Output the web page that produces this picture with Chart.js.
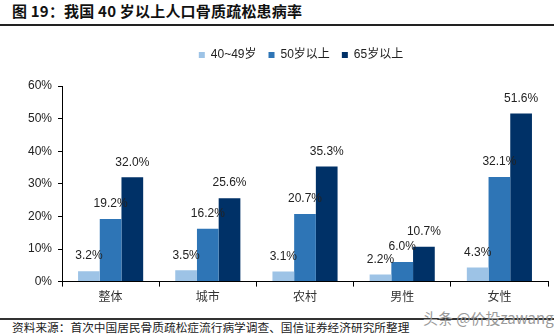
<!DOCTYPE html>
<html>
<head>
<meta charset="utf-8">
<script src="https://cdn.jsdelivr.net/npm/chart.js@4/dist/chart.umd.min.js"></script>
<style>
  body { margin: 0; width: 554px; height: 336px; background: #fff; position: relative; overflow: hidden; }
  #title { position: absolute; left: 12px; top: 0; line-height: 24px; font: bold 15px "Noto Sans CJK SC", sans-serif; letter-spacing: 0.2px; color: #111; }
  #topline { position: absolute; left: 0; top: 24px; width: 554px; height: 2px; background: #222; }
  #chartBox { position: absolute; left: 0; top: 32px; width: 554px; height: 275px; }
  #botline { position: absolute; left: 0; top: 318px; width: 554px; height: 2px; background: #333; }
  #source { position: absolute; left: 12px; top: 318px; line-height: 16px; font: 11.7px "Noto Sans CJK SC", sans-serif; color: #222; }
  #mark { position: absolute; left: 423px; top: 307px; line-height: 22px; font: 15px "Noto Sans CJK SC", sans-serif; color: #9a9a9a; }
</style>
</head>
<body>
<div id="title">图 19：我国 40 岁以上人口骨质疏松患病率</div>
<div id="topline"></div>
<div id="chartBox"><canvas id="c"></canvas></div>
<div id="botline"></div>
<div id="source">资料来源：首次中国居民骨质疏松症流行病学调查、国信证券经济研究所整理</div>
<div id="mark">头条 @价投zawang</div>
<script>
// categories and series
const groups = ["整体", "城市", "农村", "男性", "女性"];
const age40to49 = [3.2, 3.5, 3.1, 2.2, 4.3];
const age50plus = [19.2, 16.2, 20.7, 6.0, 32.1];
const age65plus = [32.0, 25.6, 35.3, 10.7, 51.6];
const seriesNames = ["40~49岁", "50岁以上", "65岁以上"];
const seriesColors = ["#9dc3e6", "#2e75b6", "#003167"];

/* value labels above each bar */
const barLabels = {
    id: "barLabels",
    afterDatasetsDraw(chart) {
        const ctx = chart.ctx;
        ctx.save();
        ctx.font = "12px 'Liberation Sans', sans-serif";
        ctx.fillStyle = "#222";
        ctx.textAlign = "center";
        ctx.textBaseline = "middle";
        chart.data.datasets.forEach((ds, i) => {
            chart.getDatasetMeta(i).data.forEach((bar, j) => {
                ctx.fillText(ds.data[j].toFixed(1) + "%", bar.x, bar.y - 15);
            });
        });
        ctx.restore();
    }
};

/* extra room under the legend, and nudge it right to sit over the plot */
const legendGap = {
    id: "legendGap",
    beforeInit(chart) {
        const fit = chart.legend.fit;
        chart.legend.fit = function () {
            fit.bind(chart.legend)();
            this.height += 15;
        };
    },
    afterLayout(chart) {
        chart.legend.left += 16;
        chart.legend.right += 16;
    }
};

const seriesData = [age40to49, age50plus, age65plus];

new Chart(document.getElementById("c"), {
    type: "bar",
    data: {
        labels: groups,
        datasets: seriesNames.map((name, i) => ({
            label: name,
            data: seriesData[i],
            backgroundColor: seriesColors[i],
            categoryPercentage: 0.67,
            barPercentage: 1.0
        }))
    },
    options: {
        responsive: true,
        maintainAspectRatio: false,
        animation: false,
        layout: { padding: { left: 22, right: 6, top: 5, bottom: 0 } },
        plugins: {
            legend: {
                position: "top",
                labels: {
                    boxWidth: 6,
                    boxHeight: 6,
                    padding: 12,
                    color: "#222",
                    font: { size: 12, family: "'Liberation Sans', 'Noto Sans CJK SC', sans-serif" }
                }
            },
            tooltip: { enabled: false }
        },
        scales: {
            x: {
                grid: { display: true, drawOnChartArea: false, offset: true, tickLength: 5, color: "#000" },
                border: { color: "#000", width: 1 },
                ticks: { color: "#333", padding: 3, font: { size: 12, family: "'Noto Sans CJK SC', sans-serif" } }
            },
            y: {
                min: 0,
                max: 60,
                grid: { display: true, drawOnChartArea: false, tickLength: 4, color: "#000" },
                border: { color: "#000", width: 1 },
                ticks: {
                    stepSize: 10,
                    padding: 6,
                    color: "#222",
                    font: { size: 12, family: "'Liberation Sans', sans-serif" },
                    callback: v => v + "%"
                }
            }
        }
    },
    plugins: [barLabels, legendGap]
});
</script>
</body>
</html>
